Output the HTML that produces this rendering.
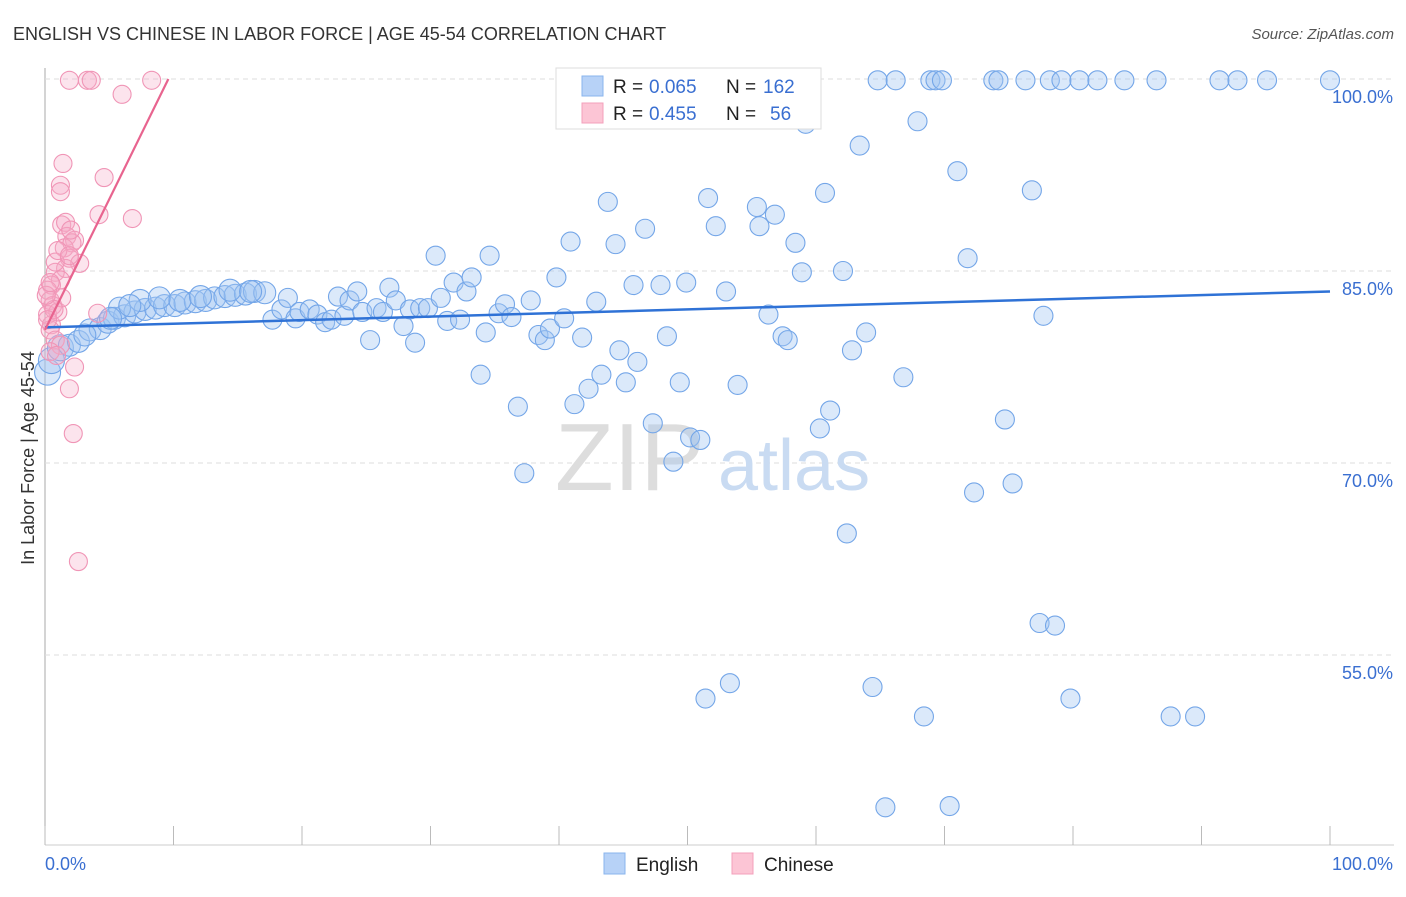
<!DOCTYPE html>
<html><head><meta charset="utf-8"><style>
body{margin:0;background:#fff;font-family:"Liberation Sans",sans-serif;}
svg text{font-family:"Liberation Sans",sans-serif;}
</style></head><body>
<svg id="chart" width="1406" height="892" xmlns="http://www.w3.org/2000/svg">
<text x="13" y="40" font-size="18" fill="#333">ENGLISH VS CHINESE IN LABOR FORCE | AGE 45-54 CORRELATION CHART</text>
<text x="1394" y="39" font-size="15" fill="#555" text-anchor="end" font-style="italic">Source: ZipAtlas.com</text>
<g id="grid"></g>
<g>
<text x="555" y="490" font-size="96" fill="#ddd" font-family="Liberation Serif">ZIP</text>
<text x="718" y="490" font-size="72" fill="#c9dbf2">atlas</text>
</g>
<g id="pts"></g>
<g id="lines"></g>
<text transform="translate(34,458) rotate(-90)" font-size="18" fill="#333" text-anchor="middle">In Labor Force | Age 45-54</text>
<text x="45" y="870" font-size="18" fill="#3a6fd1">0.0%</text>
<text x="1393" y="870" font-size="18" fill="#3a6fd1" text-anchor="end">100.0%</text>
<g>
<rect x="556" y="68" width="265" height="61" fill="#fff" stroke="#ddd"/>
<rect x="582" y="76" width="21" height="20" fill="#b7d2f7" stroke="#8ab4ee"/>
<rect x="582" y="103" width="21" height="20" fill="#fcc5d5" stroke="#f3a0bb"/>
<text x="613" y="93" font-size="19" fill="#222">R =</text>
<text x="649" y="93" font-size="19" fill="#3a6fd1">0.065</text>
<text x="726" y="93" font-size="19" fill="#222">N =</text>
<text x="763" y="93" font-size="19" fill="#3a6fd1">162</text>
<text x="613" y="120" font-size="19" fill="#222">R =</text>
<text x="649" y="120" font-size="19" fill="#3a6fd1">0.455</text>
<text x="726" y="120" font-size="19" fill="#222">N =</text>
<text x="770" y="120" font-size="19" fill="#3a6fd1">56</text>
</g>
<g>
<rect x="604" y="853" width="21" height="21" fill="#b7d2f7" stroke="#8ab4ee"/>
<text x="636" y="871" font-size="19" fill="#222">English</text></g>
<g>
<rect x="732" y="853" width="21" height="21" fill="#fcc5d5" stroke="#f3a0bb"/>
<text x="764" y="871" font-size="19" fill="#222">Chinese</text></g>
</svg>
<script>
const yTicks=[100,85,70,55];
const yTickLabels=["100.0%","85.0%","70.0%","55.0%"];
const xTicks=[0,10,20,30,40,50,60,70,80,90,100];
const englishX=[0.2,0.5,1.2,1.9,2.6,3.5,4.3,4.9,5.4,6.2,7.0,7.8,8.6,9.3,10.1,10.9,11.7,12.5,13.2,14.0,14.8,15.6,16.3,17.1,5.8,7.4,8.9,10.5,12.1,14.4,16.0,3.1,5.1,6.6,
17.7,18.4,18.9,19.5,19.8,20.6,21.2,21.8,22.3,22.8,23.3,23.7,24.3,24.7,25.3,25.8,26.3,26.8,27.3,27.9,28.4,28.8,29.2,29.8,30.4,30.8,31.3,31.8,32.3,32.8,33.2,33.9,34.3,34.6,35.3,35.8,36.3,36.8,37.3,37.8,38.4,38.9,39.3,39.8,40.4,40.9,41.2,41.8,42.3,42.9,43.3,43.8,44.4,44.7,45.2,45.8,46.1,46.7,47.3,47.9,48.4,48.9,49.4,49.9,50.2,51.0,51.4,51.6,52.2,53.0,53.3,53.9,54.6,55.4,55.6,56.3,56.8,57.4,57.8,58.4,58.9,59.2,60.3,60.7,61.1,62.1,62.4,62.8,63.4,63.9,64.4,64.8,65.4,66.2,66.8,67.9,68.4,68.9,69.3,69.8,70.4,71.0,71.8,72.3,73.8,74.2,74.7,75.3,76.3,76.8,77.4,77.7,78.2,78.6,79.1,79.8,80.5,81.9,84.0,86.5,87.6,89.5,91.4,92.8,95.1,100];
const englishY=[77.1,78.0,79.0,79.2,79.5,80.4,80.5,81.0,81.3,81.5,81.8,82.0,82.1,82.3,82.3,82.5,82.6,82.7,82.9,83.0,83.1,83.2,83.4,83.3,82.1,82.7,82.9,82.7,83.0,83.5,83.4,80.0,81.3,82.3,
81.2,82.0,82.9,81.3,81.8,82.0,81.6,81.0,81.2,83.0,81.5,82.7,83.4,81.8,79.6,82.1,81.8,83.7,82.7,80.7,82.0,79.4,82.1,82.1,86.2,82.9,81.1,84.1,81.2,83.4,84.5,76.9,80.2,86.2,81.7,82.4,81.4,74.4,69.2,82.7,80.0,79.6,80.5,84.5,81.3,87.3,74.6,79.8,75.8,82.6,76.9,90.4,87.1,78.8,76.3,83.9,77.9,88.3,73.1,83.9,79.9,70.1,76.3,84.1,72.0,71.8,51.6,90.7,88.5,83.4,52.8,76.1,99.8,90.0,88.5,81.6,89.4,79.9,79.6,87.2,84.9,96.5,72.7,91.1,74.1,85.0,64.5,78.8,94.8,80.2,52.5,99.9,43.1,99.9,76.7,96.7,50.2,99.9,99.9,99.9,43.2,92.8,86.0,67.7,99.9,99.9,73.4,68.4,99.9,91.3,57.5,81.5,99.9,57.3,99.9,51.6,99.9,99.9,99.9,99.9,50.2,50.2,99.9,99.9,99.9,99.9];
const chineseX=[1.9,3.3,3.6,8.3,6.0,1.4,1.2,1.2,4.6,4.2,6.8,1.3,1.6,1.7,2.3,1.5,2.1,1.9,2.7,1.6,0.8,1.2,0.5,0.2,0.4,0.6,0.2,0.5,0.4,0.8,1.2,4.1,2.3,1.9,2.2,2.6,0.4,0.9,1.0,1.3,0.8,1.0,1.9,2.0,0.7,0.2,0.1,0.4];
const chineseY=[99.9,99.9,99.9,99.9,98.8,93.4,91.7,91.2,92.3,89.4,89.1,88.6,88.8,87.7,87.4,86.8,87.2,86.0,85.6,85.2,84.9,84.3,83.9,83.5,82.7,82.3,81.6,80.8,80.4,79.6,79.2,81.7,77.5,75.8,72.3,62.3,78.7,78.4,81.8,82.9,85.7,86.6,86.2,88.2,82.0,81.2,83.1,84.1];
const englishTrend=[[0,80.6],[100,83.4]];
const chineseTrend=[[0,80.4],[9.6,100]];
const NS="http://www.w3.org/2000/svg";
const X=v=>45+v*12.85, Y=v=>79+(100-v)*12.8;
function mk(t,a,p){const e=document.createElementNS(NS,t);for(const k in a)e.setAttribute(k,a[k]);p.appendChild(e);return e;}
const grid=document.getElementById('grid');
const ax=mk('line',{x1:45,y1:68,x2:45,y2:845,stroke:'#aaa'},grid);


const bx=mk('line',{x1:45,y1:845,x2:1394,y2:845,stroke:'#ccc'},grid);


yTicks.forEach((t,i)=>{
 const g=mk('line',{x1:45,y1:Y(t),x2:1394,y2:Y(t),stroke:'#ddd','stroke-dasharray':'5,4'},grid);
 
 
 const l=mk('text',{x:1393,y:Y(t)+24,'font-size':18,fill:'#3a6fd1','text-anchor':'end'},grid);
 l.textContent=yTickLabels[i];
 
 
});
xTicks.forEach(t=>{
 const k=mk('line',{x1:X(t),y1:826,x2:X(t),y2:845,stroke:'#bbb'},grid);
 
 
});
const pts=document.getElementById('pts');
englishX.forEach((x,i)=>{
 const r=i<34?(i<3?13:11):9.5;
 const c=mk('circle',{cx:X(x),cy:Y(englishY[i]),r:r,fill:'rgba(160,196,242,0.38)',stroke:'#74a6e8','stroke-width':1.1},pts);
 
 
});
chineseX.forEach((x,i)=>{
 const c=mk('circle',{cx:X(x),cy:Y(chineseY[i]),r:9,fill:'rgba(247,172,200,0.32)',stroke:'#f095b6','stroke-width':1.1},pts);
 
 
});
const lines=document.getElementById('lines');
const l1=mk('line',{x1:X(englishTrend[0][0]),y1:Y(englishTrend[0][1]),x2:X(englishTrend[1][0]),y2:Y(englishTrend[1][1]),stroke:'#2f72d6','stroke-width':2.5},lines);


const l2=mk('line',{x1:X(chineseTrend[0][0]),y1:Y(chineseTrend[0][1]),x2:X(chineseTrend[1][0]),y2:Y(chineseTrend[1][1]),stroke:'#e8648f','stroke-width':2.2},lines);


</script>
</body></html>
